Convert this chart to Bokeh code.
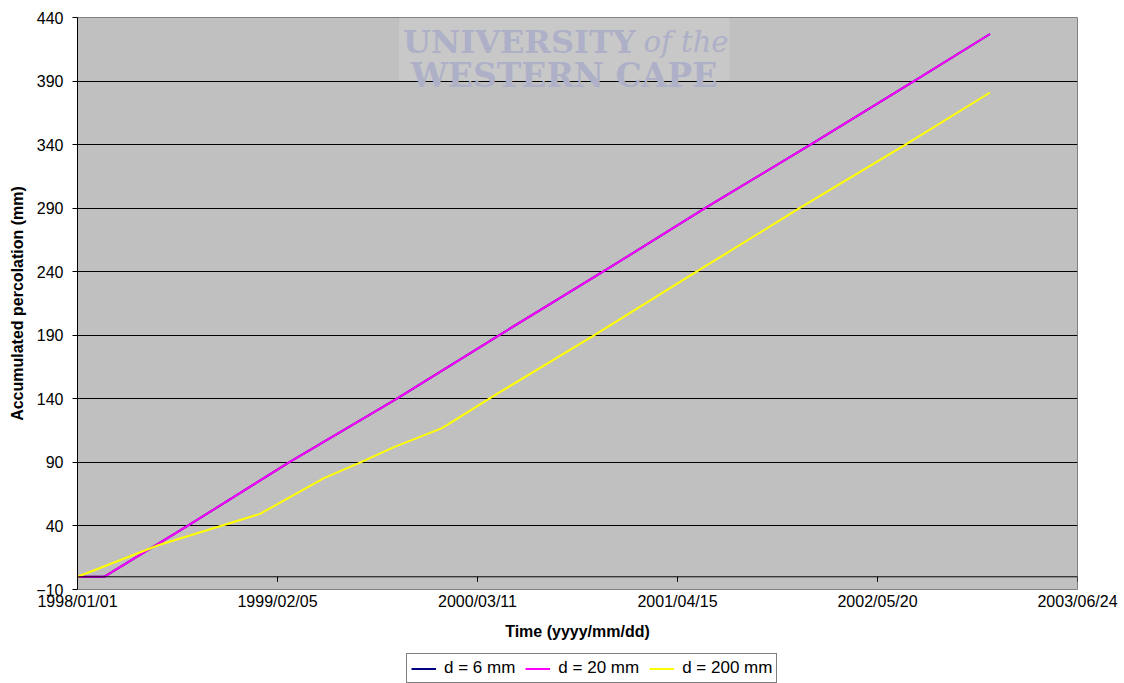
import pandas as pd
from bokeh.plotting import figure
from bokeh.layouts import column
from bokeh.models import (Range1d, FixedTicker, DatetimeTickFormatter, Legend, LegendItem,
                          Span, Label, BoxAnnotation)
from bokeh.embed import file_html
from bokeh.resources import INLINE

# ---- data ----
d6_dates = ["1998-01-01", "1998-02-23", "1998-08-09", "1999-02-28", "1999-10-01", "2000-04-23",
            "2000-11-17", "2001-06-09", "2002-01-06", "2002-08-01", "2002-12-31"]
d6_values = [0, 0, 40, 90, 140, 190, 240, 290, 340, 390, 427]

d20_dates = ["1998-01-01", "1998-02-23", "1998-08-09", "1999-02-28", "1999-10-01", "2000-04-23",
             "2000-11-17", "2001-06-09", "2002-01-06", "2002-08-01", "2002-12-31"]
d20_values = [0, 0, 40, 90, 140, 190, 240, 290, 340, 390, 427]

d200_dates = ["1998-01-01", "1998-06-13", "1999-01-01", "1999-05-09", "1999-07-21", "1999-09-26",
              "1999-12-31", "2000-04-06", "2000-10-30", "2001-05-23", "2001-12-15", "2002-07-15",
              "2002-12-31"]
d200_values = [0, 25, 49.5, 77.6, 90, 102, 117, 140.8, 190, 240, 290, 340, 381]

series_labels = ["d = 6 mm", "d = 20 mm", "d = 200 mm"]
series_colors = ["#000080", "#FF00FF", "#FFFF00"]

x_tick_dates = ["1998-01-01", "1999-02-05", "2000-03-11", "2001-04-15", "2002-05-20", "2003-06-24"]
y_ticks = [-10, 40, 90, 140, 190, 240, 290, 340, 390, 440]

FONT = "Liberation Sans"

def to_ms(strs):
    return [pd.Timestamp(s).value / 1e6 for s in strs]

def ms(s):
    return pd.Timestamp(s).value / 1e6

xt = to_ms(x_tick_dates)
series = [(to_ms(d6_dates), d6_values), (to_ms(d20_dates), d20_values), (to_ms(d200_dates), d200_values)]

p = figure(width=1124, height=653, x_axis_type="datetime",
           x_range=Range1d(xt[0], xt[-1]), y_range=Range1d(y_ticks[0], y_ticks[-1]),
           output_backend="svg", toolbar_location=None)
p.min_border_left = 77
p.min_border_right = 47
p.min_border_top = 17
p.min_border_bottom = 64
p.background_fill_color = "#C0C0C0"
p.border_fill_color = "white"
p.outline_line_color = "#808080"
p.outline_line_width = 1

# grid
p.xgrid.grid_line_color = None
p.ygrid.ticker = FixedTicker(ticks=y_ticks)
p.ygrid.grid_line_color = "black"
p.ygrid.grid_line_width = 1

# y axis
p.yaxis.ticker = FixedTicker(ticks=y_ticks)
p.yaxis.axis_line_color = "black"
p.yaxis.major_tick_line_color = "black"
p.yaxis.major_tick_out = 5
p.yaxis.major_tick_in = 0
p.yaxis.minor_tick_line_color = None
p.yaxis.major_label_standoff = 9
p.yaxis.major_label_text_font = FONT
p.yaxis.major_label_text_font_size = "16px"
p.yaxis.major_label_text_color = "black"
p.yaxis.axis_label = "Accumulated percolation (mm)"
p.yaxis.axis_label_text_font = FONT
p.yaxis.axis_label_text_font_size = "16px"
p.yaxis.axis_label_text_font_style = "bold"
p.yaxis.axis_label_text_color = "black"
p.yaxis.axis_label_standoff = 7

# x axis
p.xaxis.ticker = FixedTicker(ticks=xt)
p.xaxis.formatter = DatetimeTickFormatter(days="%Y/%m/%d", months="%Y/%m/%d", years="%Y/%m/%d")
p.xaxis.axis_line_color = None
p.xaxis.major_tick_line_color = None
p.xaxis.minor_tick_line_color = None
p.xaxis.major_tick_out = 0
p.xaxis.major_tick_in = 0
p.xaxis.major_label_standoff = 3
p.xaxis.major_label_text_font = FONT
p.xaxis.major_label_text_font_size = "16px"
p.xaxis.major_label_text_color = "black"
p.xaxis.axis_label = "Time (yyyy/mm/dd)"
p.xaxis.axis_label_text_font = FONT
p.xaxis.axis_label_text_font_size = "16px"
p.xaxis.axis_label_text_font_style = "bold"
p.xaxis.axis_label_text_color = "black"
p.xaxis.axis_label_standoff = 10

# x axis line crossing at 0 with downward ticks
p.add_layout(Span(location=0, dimension="width", line_color="black", line_width=1))
p.segment(x0=xt, y0=[0] * len(xt), x1=xt, y1=[-4] * len(xt), line_color="black", line_width=1)

# watermark
p.add_layout(BoxAnnotation(left=ms("1999-10-06"), right=ms("2001-07-28"), bottom=390, top=440,
                           fill_color="white", fill_alpha=0.13, line_color=None))
wm_color = "#AEB0C8"
p.add_layout(Label(x=ms("1999-10-14"), y=421, text="UNIVERSITY",
                   text_font="DejaVu Serif", text_font_style="bold", text_font_size="32px",
                   text_color=wm_color, text_align="left", text_baseline="alphabetic"))
p.add_layout(Label(x=ms("2001-07-26"), y=421, text="of the",
                   text_font="DejaVu Serif", text_font_style="italic", text_font_size="29px",
                   text_color=wm_color, text_align="right", text_baseline="alphabetic"))
p.add_layout(Label(x=ms("2000-08-31"), y=394.5, text="WESTERN CAPE",
                   text_font="DejaVu Serif", text_font_style="bold", text_font_size="33px",
                   text_color=wm_color, text_align="center", text_baseline="alphabetic"))

# lines
for (xs, ys), col in zip(series, series_colors):
    p.line(xs, ys, line_color=col, line_width=2)

# legend strip (separate figure below the chart; series lie outside its view)
q = figure(width=1124, height=30, x_range=Range1d(0, 1), y_range=Range1d(0, 1),
           x_axis_location=None, y_axis_location=None,
           output_backend="svg", toolbar_location=None)
q.min_border = 0
q.min_border_left = 0
q.min_border_right = 0
q.min_border_top = 0
q.min_border_bottom = 0
q.outline_line_color = None
q.xgrid.grid_line_color = None
q.ygrid.grid_line_color = None
q.background_fill_color = "white"
items = []
for lab, col, (xs, ys) in zip(series_labels, series_colors, series):
    r = q.line(xs, ys, line_color=col, line_width=2)
    items.append(LegendItem(label=lab, renderers=[r]))
legend = Legend(items=items, orientation="horizontal", location=(329, 0))
legend.label_text_font = FONT
legend.label_text_font_size = "17px"
legend.label_text_color = "black"
legend.glyph_width = 25
legend.glyph_height = 17
legend.label_height = 17
legend.label_standoff = 8
legend.spacing = 10
legend.padding = 4
legend.margin = 0
legend.border_line_color = "black"
legend.border_line_width = 1
legend.background_fill_color = "white"
legend.background_fill_alpha = 1
q.add_layout(legend)

open("out.html", "w").write(file_html(column(p, q, spacing=0), INLINE))
